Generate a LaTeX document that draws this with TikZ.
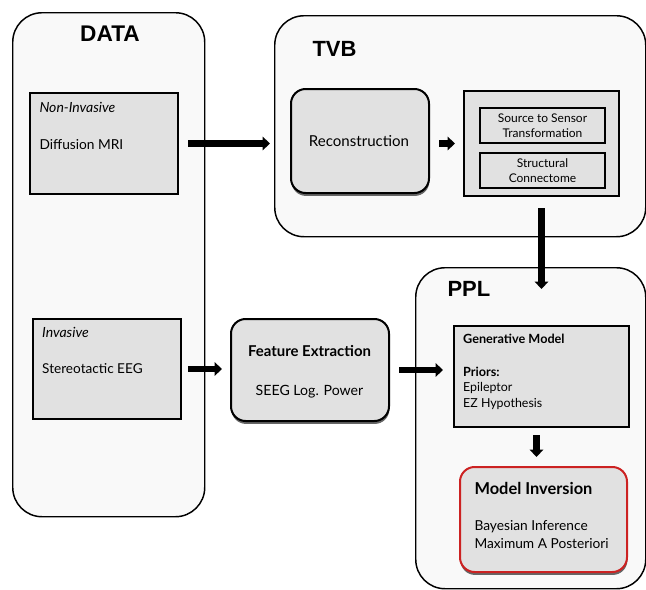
\documentclass[tikz,border=0pt]{standalone}
\usepackage{fontspec}
\setmainfont{Lato}
\newfontfamily\headfont{Liberation Sans}
\usetikzlibrary{arrows.meta,shadows}

\definecolor{paneFill}{RGB}{249,249,249}
\definecolor{boxFill}{RGB}{225,225,225}
\definecolor{invRed}{RGB}{204,34,34}

\tikzset{every picture/.style={line width=0.75pt},
  pane/.style={draw, fill=paneFill, rounded corners=22pt, line width=1.1pt, anchor=north west, inner sep=0pt},
  plainbox/.style={draw, fill=boxFill, line width=1.5pt, anchor=north west, inner sep=0pt},
  roundbox/.style={plainbox, rounded corners=11pt, drop shadow={shadow xshift=0.3pt, shadow yshift=-2.2pt, fill=black!60, opacity=1}},
  fatarrow/.style={line width=5pt, -{Triangle[length=5.5pt, width=10pt]}},
  sz/.style 2 args={minimum width=#1*0.75pt, minimum height=#2*0.75pt}
}

\begin{document}
\begin{tikzpicture}[x=0.75pt,y=0.75pt,yscale=-1,xscale=1]
\useasboundingbox (0,0) rectangle (646,589); %set diagram 646 x 589

%Rounded Rect [id:data]
\node (data) at (12,12) [pane, sz={192}{504}] {};
%Rounded Rect [id:tvb]
\node (tvb) at (274,15) [pane, sz={371}{221}] {};
%Rounded Rect [id:ppl]
\node (ppl) at (415,267) [pane, sz={230}{321}] {};

%Shape: Rectangle [id:nonInv]
\node (nonInv) at (29,92) [plainbox, sz={148}{101}] {};
%Shape: Rectangle [id:inv]
\node (inv) at (32,318) [plainbox, sz={148}{100}] {};
%Rounded Rect [id:recon]
\node (recon) at (290,88) [roundbox, sz={138}{104}] {};
%Shape: Rectangle [id:sens]
\node (sens) at (463,90) [plainbox, sz={155}{105}] {};
%Shape: Rectangle [id:srcSens]
\node (srcSens) at (479,107) [plainbox, sz={125}{35}, align=center, font=\fontsize{9}{11.25}\selectfont] {Source to Sensor\\Transformation};
%Shape: Rectangle [id:connect]
\node (connect) at (479,152) [plainbox, sz={125}{35}, align=center, font=\fontsize{9}{11.25}\selectfont] {Structural\\Connectome};
%Rounded Rect [id:feat]
\node (feat) at (230,318) [roundbox, sz={158}{102}] {};
%Shape: Rectangle [id:gen]
\node (gen) at (453,325) [plainbox, sz={175}{101}] {};
%Rounded Rect [id:invers]
\node (invers) at (459,466) [roundbox, draw=invRed, sz={167}{105}] {};

%Straight Lines [id:arrData]
\draw [fatarrow, shorten <=6.75pt, shorten >=3pt] (nonInv.east) -- (nonInv.east -| tvb.west) ;
%Straight Lines [id:arrSeeg]
\draw [fatarrow, shorten <=4.5pt, shorten >=6pt] (inv.east) -- (inv.east -| feat.west) ;
%Straight Lines [id:arrFeat]
\draw [fatarrow, shorten <=6.75pt, shorten >=7.5pt] (feat.east) -- (feat.east -| gen.west) ;
%Straight Lines [id:arrRecon]
\draw [fatarrow, shorten <=6.75pt, shorten >=6pt] (recon.east |- sens.west) -- (sens.west) ;
%Straight Lines [id:arrTvb]
\draw [fatarrow, shorten <=8.25pt, shorten >=27pt] (sens.south) -- (sens.south |- gen.north) ;
%Straight Lines [id:arrGen]
\draw [fatarrow, shorten <=5.25pt, shorten >=6.75pt] ([xshift=-3.75pt]gen.south) -- ([xshift=-3.75pt]gen.south |- invers.north) ;

% Text Node
\draw (110,34) node (dataLbl) [inner sep=0pt, font=\headfont\bfseries\fontsize{17}{19}\selectfont] {DATA};
% Text Node
\draw (312,56) node (tvbLbl) [anchor=base west, inner sep=0pt, font=\headfont\bfseries\fontsize{16.5}{18}\selectfont] {TVB};
% Text Node
\draw (447,296.7) node (pplLbl) [anchor=base west, inner sep=0pt, font=\headfont\bfseries\fontsize{16.5}{18}\selectfont] {PPL};
% Text Node
\draw (39,112) node (nonInvLbl) [anchor=base west, inner sep=0pt, font=\itshape\fontsize{10.5}{12}\selectfont] {Non-Invasive};
% Text Node
\draw (39,149) node (mriLbl) [anchor=base west, inner sep=0pt, font=\fontsize{10.3}{12}\selectfont] {Diffusion MRI};
% Text Node
\draw (41.7,337.3) node (invLbl) [anchor=base west, inner sep=0pt, font=\itshape\fontsize{10.5}{12}\selectfont] {Invasive};
% Text Node
\draw (41.7,373.3) node (seegLbl) [anchor=base west, inner sep=0pt, font=\fontsize{10.2}{12}\selectfont] {Stereotactic EEG};
% Text Node
\draw (359,146.7) node (reconLbl) [anchor=base, inner sep=0pt, font=\fontsize{11.3}{14}\selectfont] {Reconstruction};
% Text Node
\draw (309.5,356.7) node (featLbl) [anchor=base, inner sep=0pt, font=\bfseries\fontsize{11.2}{14}\selectfont] {Feature Extraction};
% Text Node
\draw (309.5,395) node (powLbl) [anchor=base, inner sep=0pt, font=\fontsize{10.6}{13}\selectfont] {SEEG Log. Power};
% Text Node
\draw (462.7,343.3) node (genLbl) [anchor=base west, inner sep=0pt, font=\bfseries\fontsize{9.5}{11}\selectfont] {Generative Model};
% Text Node
\draw (462.7,376.7) node (priLbl) [anchor=base west, inner sep=0pt, font=\bfseries\fontsize{9.5}{11}\selectfont] {Priors:};
% Text Node
\draw (462.7,391.7) node (epiLbl) [anchor=base west, inner sep=0pt, font=\fontsize{9.3}{11}\selectfont] {Epileptor};
% Text Node
\draw (462.7,407.7) node (ezLbl) [anchor=base west, inner sep=0pt, font=\fontsize{9.3}{11}\selectfont] {EZ Hypothesis};
% Text Node
\draw (474,494) node (inversLbl) [anchor=base west, inner sep=0pt, font=\bfseries\fontsize{12.3}{15}\selectfont] {Model Inversion};
% Text Node
\draw (474,530.7) node (bayLbl) [anchor=base west, inner sep=0pt, font=\fontsize{10.3}{12}\selectfont] {Bayesian Inference};
% Text Node
\draw (474,548.3) node (mapLbl) [anchor=base west, inner sep=0pt, font=\fontsize{10.3}{12}\selectfont] {Maximum A Posteriori};

\end{tikzpicture}
\end{document}
